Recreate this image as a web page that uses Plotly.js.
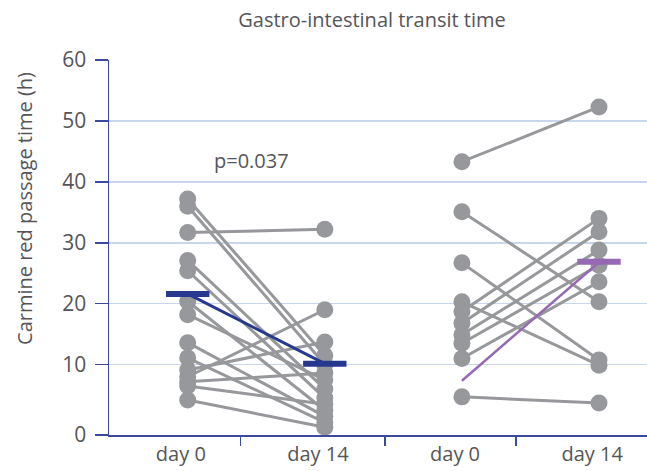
<!DOCTYPE html>
<html>
<head>
<meta charset="utf-8">
<script src="https://cdn.plot.ly/plotly-3.0.1.min.js"></script>
<style>html,body{margin:0;padding:0;background:#fff;}#chart{width:647px;height:471px;}</style>
</head>
<body>
<div id="chart"></div>
<script>
// ---- data ----
const categories = ["day 0", "day 14", "day 0", "day 14"];
const yTickLabels = ["0", "10", "20", "30", "40", "50", "60"];
const yTickValues = [-1.56, 10, 20, 30, 40, 50, 60];

// group 1 (left): paired values, day 0 -> day 14
const leftDay0  = [37.2, 36.0, 31.7, 27.1, 25.4, 20.4, 18.2, 13.6, 11.1, 9.1, 8.0, 7.2, 6.5, 4.2];
const leftDay14 = [11.5, 10.0, 32.2, 6.0, 4.5, 2.5, 7.5, 1.5, 0.5, 13.7, 19.0, 8.6, 3.5, -0.3];

// group 2 (right): paired values, day 0 -> day 14
const rightDay0  = [43.3, 35.1, 26.7, 20.3, 18.7, 16.8, 14.9, 13.5, 11.0, 4.7];
const rightDay14 = [52.3, 20.3, 10.75, 9.9, 34.0, 31.8, 28.8, 26.3, 23.6, 3.7];

// summary markers
const leftMeans = [21.6, 10.15];       // blue bars at day 0 / day 14
const rightMean14 = [26.9];            // purple bar at day 14
const rightTrend = [7.35, 26.8];       // purple line day 0 -> day 14

const pValueText = "p=0.037";
const yTitleText = "Carmine red passage time (h)";

// ---- build traces ----
function pairs(xa, xb, a, b) {
  const xs = [], ys = [];
  for (let i = 0; i < a.length; i++) {
    xs.push(xa, xb, null);
    ys.push(a[i], b[i], null);
  }
  return {xs, ys};
}
const L = pairs(0, 1, leftDay0, leftDay14);
const R = pairs(2, 3, rightDay0, rightDay14);

const grey = "#97989b";
const blue = "#27388f";
const purple = "#9569b3";
const axisBlue = "#3b4a9e";
const gridBlue = "#c9d7ee";
const textGrey = "#555559";

const traces = [
  {x: L.xs, y: L.ys, mode: "lines+markers", type: "scatter", connectgaps: false,
   line: {color: grey, width: 3}, marker: {color: grey, size: 17}, cliponaxis: false, hoverinfo: "skip"},
  {x: R.xs, y: R.ys, mode: "lines+markers", type: "scatter", connectgaps: false,
   line: {color: grey, width: 3}, marker: {color: grey, size: 17}, cliponaxis: false, hoverinfo: "skip"},
  {x: [0, 1], y: leftMeans, mode: "lines", type: "scatter",
   line: {color: blue, width: 3}, hoverinfo: "skip"},
  {x: [0, 1], y: leftMeans, mode: "markers", type: "scatter",
   marker: {symbol: "line-ew", size: 31, line: {color: blue, width: 6}}, hoverinfo: "skip"},
  {x: [2, 3], y: rightTrend, mode: "lines", type: "scatter",
   line: {color: purple, width: 2.5}, hoverinfo: "skip"},
  {x: [3], y: rightMean14, mode: "markers", type: "scatter",
   marker: {symbol: "line-ew", size: 31, line: {color: purple, width: 6}}, hoverinfo: "skip"}
];

const layout = {
  width: 647, height: 471,
  margin: {l: 109, r: 0, t: 60, b: 36},
  paper_bgcolor: "#ffffff", plot_bgcolor: "#ffffff",
  showlegend: false,
  font: {family: "Open Sans, sans-serif", color: textGrey},
  title: {text: "Gastro-intestinal transit time", font: {size: 20, color: textGrey},
          x: 0.575, xref: "container", xanchor: "center",
          y: 0.957, yref: "container", yanchor: "middle"},
  xaxis: {
    range: [-0.574, 3.35], showgrid: false, zeroline: false,
    showline: true, linecolor: axisBlue, linewidth: 1.5,
    tickmode: "array", tickvals: [-0.05, 0.95, 1.95, 2.95], ticktext: categories,
    ticks: "", tickfont: {size: 20, color: textGrey}, ticklabelstandoff: 0,
    minor: {tickmode: "array", tickvals: [0.385, 1.438, 2.394], ticks: "outside",
            ticklen: 9, tickwidth: 1.5, tickcolor: axisBlue, showgrid: false}
  },
  yaxis: {
    range: [-1.56, 60], zeroline: false,
    showline: true, linecolor: axisBlue, linewidth: 1.5,
    showgrid: true, gridcolor: gridBlue, gridwidth: 1.5,
    tickmode: "array", tickvals: yTickValues, ticktext: yTickLabels,
    ticks: "outside", ticklen: 13, tickwidth: 1.5, tickcolor: axisBlue,
    tickfont: {size: 21, color: textGrey}, ticklabelstandoff: 4,
    title: {text: ""}
  },
  annotations: [
    {text: pValueText, xref: "paper", yref: "paper", x: 0.265, y: 0.733,
     xanchor: "center", yanchor: "middle", showarrow: false,
     font: {size: 20, color: textGrey}},
    {text: yTitleText, xref: "paper", yref: "paper", x: -0.156, y: 0.603,
     xanchor: "center", yanchor: "middle", textangle: -90, showarrow: false,
     font: {size: 20, color: textGrey}}
  ]
};

Plotly.newPlot("chart", traces, layout, {staticPlot: true, displayModeBar: false});
</script>
</body>
</html>
